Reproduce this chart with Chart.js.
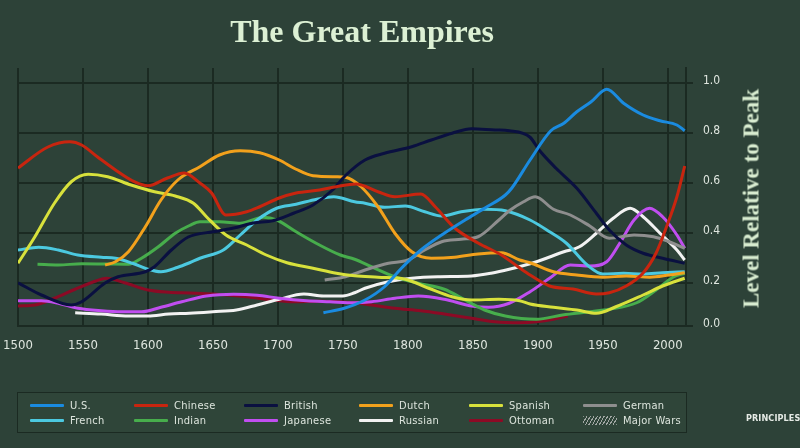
<!DOCTYPE html>
<html>
<head>
<meta charset="utf-8">
<script src="https://cdn.jsdelivr.net/npm/chart.js@4.4.1/dist/chart.umd.min.js"></script>
<style>
  html,body{margin:0;padding:0;}
  body{width:800px;height:448px;overflow:hidden;position:relative;background:#2d4238;font-family:"DejaVu Sans Condensed","DejaVu Sans",Roboto,sans-serif;}
  #c{position:absolute;left:0;top:0;}
  #title{position:absolute;left:0;top:15px;width:724px;text-align:center;font-family:"Liberation Serif",serif;font-weight:bold;font-size:32px;line-height:32px;color:#dcf0d4;white-space:nowrap;}
  #ytitle{position:absolute;left:621px;top:187px;width:260px;height:23px;text-align:center;font-family:"Liberation Serif",serif;font-weight:bold;font-size:23px;line-height:23px;color:#d8ecd0;transform:rotate(-90deg);white-space:nowrap;}
  #legend{position:absolute;left:17px;top:392px;width:668px;height:39px;border:1.5px solid #1b2a22;background:#2f4539;}
  .li{position:absolute;height:14px;font-size:11px;line-height:14px;color:#dde5dd;white-space:nowrap;}
  .sw{position:absolute;left:0;top:5px;width:34px;height:3px;border-radius:1px;}
  .lt{position:absolute;left:40px;top:0;letter-spacing:0.3px;}
  #brand{position:absolute;left:746px;top:413px;font-size:9px;font-weight:bold;color:#e6ebe6;letter-spacing:0.1px;}
</style>
</head>
<body>
<canvas id="c" width="800" height="448"></canvas>
<div id="title">The Great Empires</div>
<div id="ytitle">Level Relative to Peak</div>
<div id="legend"></div>
<div id="brand">PRINCIPLES</div>
<script>
// ---- Data (year, level relative to peak) ----
const xTicks = [1500,1550,1600,1650,1700,1750,1800,1850,1900,1950,2000];
const yTicks = [0.0,0.2,0.4,0.6,0.8,1.0];
const yTickLabels = ['0.0','0.2','0.4','0.6','0.8','1.0'];

const usData = [[1735,0.081],[1751,0.099],[1767,0.132],[1782,0.185],[1795,0.259],[1810,0.332],[1828,0.399],[1844,0.452],[1859,0.499],[1875,0.552],[1880,0.58],[1894,0.692],[1910,0.809],[1920,0.839],[1930,0.885],[1941,0.925],[1953,0.975],[1966,0.919],[1981,0.872],[1994,0.849],[2007,0.832],[2013,0.809]];
const chineseData = [[1500,0.66],[1523,0.744],[1540,0.765],[1549,0.752],[1561,0.705],[1575,0.652],[1588,0.609],[1600,0.589],[1615,0.62],[1628,0.64],[1640,0.6],[1649,0.56],[1660,0.472],[1676,0.485],[1686,0.505],[1701,0.54],[1714,0.56],[1732,0.572],[1745,0.585],[1760,0.596],[1777,0.565],[1790,0.545],[1810,0.556],[1821,0.505],[1836,0.42],[1854,0.36],[1872,0.312],[1885,0.264],[1894,0.232],[1909,0.188],[1927,0.176],[1945,0.156],[1955,0.161],[1968,0.188],[1981,0.24],[1991,0.32],[1999,0.425],[2007,0.545],[2013,0.668]];
const britishData = [[1500,0.201],[1518,0.152],[1541,0.112],[1549,0.125],[1567,0.2],[1577,0.225],[1598,0.245],[1605,0.265],[1618,0.332],[1631,0.384],[1650,0.405],[1666,0.42],[1681,0.44],[1696,0.449],[1712,0.479],[1727,0.512],[1742,0.572],[1752,0.63],[1767,0.692],[1782,0.719],[1803,0.745],[1818,0.772],[1834,0.799],[1849,0.817],[1867,0.812],[1878,0.809],[1894,0.783],[1901,0.732],[1914,0.659],[1930,0.579],[1945,0.479],[1955,0.412],[1968,0.352],[1981,0.319],[1996,0.299],[2013,0.279]];
const dutchData = [[1567,0.272],[1575,0.285],[1585,0.325],[1598,0.425],[1610,0.532],[1623,0.612],[1640,0.665],[1655,0.712],[1671,0.729],[1686,0.721],[1701,0.692],[1714,0.655],[1727,0.629],[1745,0.625],[1752,0.623],[1764,0.585],[1777,0.505],[1790,0.399],[1803,0.325],[1818,0.299],[1836,0.303],[1854,0.316],[1872,0.321],[1886,0.292],[1894,0.281],[1912,0.245],[1930,0.232],[1950,0.223],[1968,0.228],[1986,0.223],[2001,0.232],[2013,0.241]];
const spanishData = [[1500,0.279],[1513,0.385],[1528,0.519],[1541,0.605],[1554,0.635],[1569,0.625],[1587,0.592],[1605,0.565],[1621,0.548],[1635,0.519],[1645,0.465],[1660,0.392],[1676,0.352],[1691,0.312],[1707,0.281],[1727,0.259],[1745,0.239],[1759,0.229],[1777,0.223],[1798,0.215],[1816,0.179],[1834,0.145],[1849,0.132],[1870,0.135],[1886,0.129],[1894,0.116],[1912,0.103],[1930,0.092],[1945,0.079],[1960,0.105],[1981,0.152],[1996,0.188],[2013,0.219]];
const germanData = [[1736,0.212],[1752,0.225],[1767,0.252],[1785,0.279],[1800,0.292],[1813,0.332],[1826,0.365],[1841,0.375],[1854,0.385],[1870,0.452],[1878,0.489],[1889,0.525],[1898,0.545],[1912,0.495],[1925,0.472],[1940,0.428],[1955,0.379],[1974,0.392],[1989,0.385],[2001,0.365],[2013,0.339]];
const frenchData = [[1500,0.332],[1516,0.343],[1531,0.332],[1546,0.312],[1564,0.303],[1575,0.299],[1588,0.279],[1600,0.255],[1610,0.245],[1623,0.263],[1632,0.281],[1640,0.299],[1658,0.332],[1671,0.392],[1684,0.452],[1699,0.499],[1714,0.515],[1730,0.535],[1743,0.545],[1759,0.525],[1767,0.519],[1782,0.503],[1798,0.508],[1813,0.485],[1826,0.468],[1841,0.485],[1859,0.495],[1875,0.489],[1894,0.452],[1909,0.405],[1922,0.359],[1938,0.272],[1950,0.236],[1966,0.239],[1981,0.236],[1996,0.241],[2013,0.245]];
const indianData = [[1515,0.275],[1531,0.272],[1549,0.277],[1567,0.276],[1585,0.275],[1595,0.299],[1608,0.345],[1621,0.399],[1632,0.43],[1640,0.445],[1655,0.445],[1671,0.439],[1689,0.463],[1699,0.452],[1714,0.405],[1732,0.352],[1748,0.312],[1759,0.295],[1772,0.265],[1790,0.225],[1808,0.199],[1828,0.175],[1844,0.132],[1859,0.092],[1875,0.068],[1899,0.055],[1919,0.072],[1940,0.085],[1955,0.095],[1976,0.121],[1991,0.172],[2004,0.223],[2013,0.239]];
const japaneseData = [[1500,0.129],[1518,0.129],[1531,0.119],[1546,0.099],[1564,0.089],[1580,0.085],[1595,0.085],[1610,0.103],[1626,0.125],[1645,0.148],[1666,0.155],[1684,0.151],[1701,0.139],[1722,0.129],[1740,0.125],[1759,0.121],[1772,0.125],[1790,0.139],[1808,0.148],[1828,0.135],[1849,0.108],[1862,0.103],[1878,0.119],[1894,0.165],[1909,0.219],[1925,0.272],[1940,0.268],[1953,0.285],[1963,0.359],[1974,0.452],[1986,0.499],[1996,0.465],[2007,0.392],[2013,0.339]];
const russianData = [[1544,0.081],[1564,0.076],[1585,0.068],[1600,0.068],[1616,0.076],[1632,0.079],[1650,0.085],[1668,0.092],[1684,0.112],[1701,0.135],[1720,0.156],[1735,0.148],[1750,0.148],[1759,0.161],[1767,0.179],[1785,0.205],[1803,0.219],[1823,0.225],[1849,0.228],[1864,0.239],[1878,0.255],[1899,0.285],[1920,0.325],[1932,0.345],[1945,0.399],[1958,0.459],[1971,0.499],[1981,0.465],[1994,0.399],[2007,0.332],[2013,0.292]];
const ottomanData = [[1500,0.108],[1513,0.112],[1528,0.139],[1544,0.175],[1560,0.208],[1568,0.219],[1582,0.201],[1600,0.172],[1616,0.163],[1632,0.16],[1650,0.156],[1676,0.145],[1696,0.132],[1712,0.125],[1732,0.127],[1759,0.121],[1772,0.112],[1790,0.099],[1810,0.089],[1828,0.076],[1849,0.059],[1867,0.045],[1886,0.041],[1899,0.045],[1912,0.055],[1923,0.068]];

const series = [
  {label:'U.S.', data:usData, color:'#1a8be0'},
  {label:'Chinese', data:chineseData, color:'#c8250f'},
  {label:'British', data:britishData, color:'#0a1040'},
  {label:'Dutch', data:dutchData, color:'#f2a11c'},
  {label:'Spanish', data:spanishData, color:'#d8e13c'},
  {label:'German', data:germanData, color:'#8e8e8e'},
  {label:'French', data:frenchData, color:'#4cc9e0'},
  {label:'Indian', data:indianData, color:'#47ad4c'},
  {label:'Japanese', data:japaneseData, color:'#c04ef0'},
  {label:'Russian', data:russianData, color:'#f2f2f2'},
  {label:'Ottoman', data:ottomanData, color:'#8c0a25'}
];

const Y_MIN = 0.028, Y_MAX = 1.06;
const gridColor = '#1b2a22';

const datasets = series.map(s => ({
  label: s.label,
  data: s.data.map(p => ({x:p[0], y:p[1]})),
  borderColor: s.color,
  backgroundColor: s.color,
  borderWidth: 3,
  pointRadius: 0,
  pointHoverRadius: 0,
  cubicInterpolationMode: 'monotone',
  fill: false
}));

new Chart(document.getElementById('c'), {
  type: 'line',
  data: { datasets },
  options: {
    responsive: false,
    animation: false,
    devicePixelRatio: 1,
    layout: { padding: { left: 18, top: 68, right: 54, bottom: 92 } },
    plugins: { legend: { display: false }, tooltip: { enabled: false }, title: { display: false } },
    scales: {
      x: {
        type: 'linear',
        position: 'bottom',
        min: 1500, max: 2014,
        afterBuildTicks: sc => { sc.ticks = xTicks.map(v => ({value:v})); },
        afterFit: sc => { sc.height = 30; sc.paddingLeft = 0; sc.paddingRight = 0; },
        grid: { color: gridColor, lineWidth: 2, drawTicks: false },
        border: { display: true, color: gridColor, width: 2 },
        ticks: { color: '#dfe6df', padding: 12, font: { family: '"DejaVu Sans Condensed","DejaVu Sans",sans-serif', size: 13 }, callback: v => String(v), maxRotation: 0 }
      },
      y: {
        type: 'linear',
        position: 'right',
        min: Y_MIN, max: Y_MAX,
        afterBuildTicks: sc => { sc.ticks = yTicks.map(v => ({value: Math.max(v, Y_MIN)})); },
        afterFit: sc => { sc.width = 60; sc.paddingTop = 0; sc.paddingBottom = 0; },
        grid: { color: gridColor, lineWidth: 2, drawTicks: true, tickLength: 7, tickColor: gridColor },
        border: { display: true, color: gridColor, width: 2 },
        ticks: { color: '#dfe6df', padding: 10, labelOffset: -2, font: { family: '"DejaVu Sans Condensed","DejaVu Sans",sans-serif', size: 12 }, callback: (v, i) => yTickLabels[i] }
      }
    }
  }
});

// ---- HTML legend (2 rows x 6 columns) ----
const legendCols = [12, 116, 226, 341, 451, 565];
const legendRows = [6, 21];
const lg = document.getElementById('legend');
function addItem(idx, label, swatchCss) {
  const col = idx % 6, row = Math.floor(idx / 6);
  const d = document.createElement('div');
  d.className = 'li';
  d.style.left = legendCols[col] + 'px';
  d.style.top = legendRows[row] + 'px';
  const sw = document.createElement('div');
  sw.className = 'sw';
  Object.assign(sw.style, swatchCss);
  const t = document.createElement('div');
  t.className = 'lt';
  t.textContent = label;
  d.appendChild(sw); d.appendChild(t);
  lg.appendChild(d);
}
series.forEach((s, i) => addItem(i, s.label, {background: s.color}));
addItem(11, 'Major Wars', {top:'2px', height:'9px', background:'repeating-linear-gradient(120deg, rgba(200,200,200,0.75) 0px, rgba(200,200,200,0.75) 1px, transparent 1px, transparent 3px)'});
</script>
</body>
</html>
